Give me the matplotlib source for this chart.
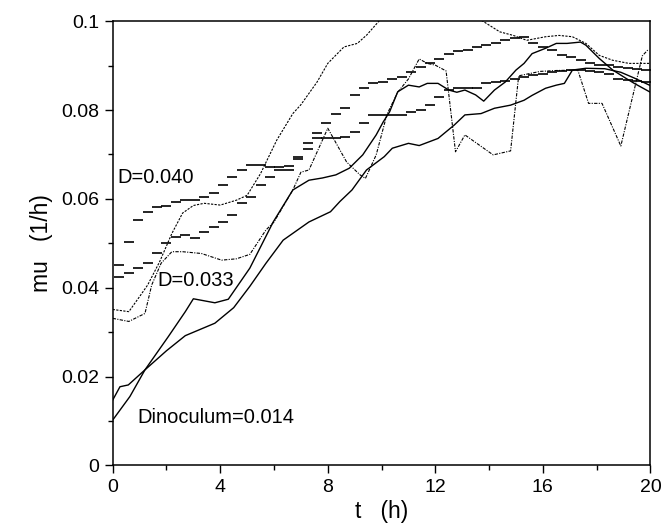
import numpy as np
import matplotlib
matplotlib.use('Agg')
import matplotlib.pyplot as plt
from matplotlib.ticker import MultipleLocator

plt.rcParams['font.family'] = ['Liberation Sans', 'DejaVu Sans']

# solid curves
t_a = [0, 0.27, 0.58, 1.2, 2.07, 2.7, 3.0, 3.8, 4.3, 5.1, 5.97, 6.7, 7.3, 7.8, 8.3, 8.8,
       9.3, 9.8, 10.06, 10.3, 10.6, 11.0, 11.4, 11.7, 12.1, 12.5, 12.8, 13.1, 13.5, 13.8,
       14.2, 14.6, 15.0, 15.3, 15.6, 16.1, 16.5, 16.9, 17.4, 17.6, 18.1, 18.6, 19.1, 19.4, 20.0]
mu_a = [0.0147, 0.0177, 0.0181, 0.0215, 0.0290, 0.0346, 0.0375, 0.0366, 0.0374, 0.0444,
        0.0548, 0.0620, 0.0642, 0.0647, 0.0654, 0.0669, 0.0699, 0.0744, 0.0773, 0.0796,
        0.0841, 0.0856, 0.0852, 0.0860, 0.0860, 0.0845, 0.0840, 0.0845, 0.0834, 0.0820,
        0.0845, 0.0863, 0.0890, 0.0905, 0.0927, 0.0939, 0.0950, 0.0950, 0.0953, 0.0946,
        0.0916, 0.0890, 0.0871, 0.0860, 0.0840]

t_b = [0, 0.64, 1.2, 2.0, 2.7, 3.8, 4.5, 5.1, 5.7, 6.34, 7.3, 8.1, 8.45, 8.9, 9.44, 10.1,
       10.4, 11.0, 11.4, 12.1, 12.7, 13.1, 13.7, 14.2, 14.8, 15.3, 15.6, 16.1, 16.5, 16.8,
       17.1, 17.6, 18.3, 18.9, 19.4, 20.0]
mu_b = [0.0102, 0.0155, 0.0215, 0.0258, 0.0292, 0.0320, 0.0355, 0.0403, 0.0455, 0.0507,
        0.0548, 0.0571, 0.0594, 0.0620, 0.0665, 0.0695, 0.0714, 0.0725, 0.0720, 0.0736,
        0.0766, 0.0789, 0.0792, 0.0804, 0.0811, 0.0822, 0.0833, 0.0849, 0.0856, 0.0860,
        0.0890, 0.0894, 0.0893, 0.0885, 0.0872, 0.0855]

# dotted curve (starts at 0.035, runs off the top)
t_c = [0, 0.6, 1.0, 1.3, 1.75, 2.2, 2.6, 3.0, 3.4, 4.0, 4.6, 5.0, 5.5, 6.1, 6.7, 7.0, 7.6,
       8.0, 8.6, 9.1, 9.45, 9.9, 10.5, 11.5, 12.5, 13.5, 13.9, 14.4, 14.9, 15.4, 16.1, 16.6,
       17.1, 17.6, 18.1, 18.6, 19.2, 19.8, 20.0]
mu_c = [0.0351, 0.0346, 0.0380, 0.0406, 0.0459, 0.0522, 0.0568, 0.0585, 0.0590, 0.0586,
        0.0597, 0.0608, 0.0657, 0.0732, 0.0792, 0.0812, 0.0863, 0.0905, 0.0942, 0.0950,
        0.0969, 0.1000, 0.1040, 0.1060, 0.1050, 0.1010, 0.0995, 0.0976, 0.0968, 0.0957,
        0.0965, 0.0968, 0.0965, 0.0950, 0.0923, 0.0912, 0.0905, 0.0905, 0.0905]

# dash-dot curve (starts at 0.033, jumpy)
t_d = [0, 0.6, 1.2, 1.45, 1.8, 2.2, 2.6, 3.3, 4.05, 4.6, 5.1, 5.7, 6.0, 6.7, 7.0, 7.3, 8.0,
       8.7, 9.2, 9.4, 9.8, 10.2, 10.6, 11.0, 11.4, 11.7, 12.0, 12.4, 12.75, 13.1, 14.15,
       14.8, 15.1, 15.9, 16.5, 17.3, 17.7, 18.2, 18.9, 19.7, 19.9]
mu_d = [0.0331, 0.0324, 0.0342, 0.0406, 0.0455, 0.0481, 0.0481, 0.0477, 0.0462, 0.0465,
        0.0475, 0.0530, 0.0548, 0.0620, 0.0660, 0.0665, 0.0759, 0.0683, 0.0654, 0.0646,
        0.0699, 0.0790, 0.0840, 0.0870, 0.0915, 0.0905, 0.0901, 0.0888, 0.0706, 0.0744,
        0.0699, 0.0708, 0.0877, 0.0887, 0.0889, 0.0890, 0.0815, 0.0815, 0.0719, 0.0922,
        0.0935]

# horizontal dash markers
t_m = [0.25, 0.6, 0.95, 1.3, 1.65, 2.0, 2.35, 2.7, 3.05, 3.4, 3.75, 4.1, 4.45, 4.8, 5.15,
       5.5, 5.85, 6.2, 6.55, 6.9, 7.25, 7.6, 7.95, 8.3, 8.65, 9.0, 9.35, 9.7, 10.05, 10.4,
       10.75, 11.1, 11.45, 11.8, 12.15, 12.5, 12.85, 13.2, 13.55, 13.9, 14.25, 14.6, 14.95,
       15.3, 15.65, 16.0, 16.35, 16.7, 17.05, 17.4, 17.75, 18.1, 18.45, 18.8, 19.15, 19.5,
       19.85]
mu_m040 = [0.0451, 0.0503, 0.0552, 0.0571, 0.0582, 0.0585, 0.0593, 0.0597, 0.0597, 0.0605,
           0.0614, 0.0631, 0.0650, 0.0665, 0.0676, 0.0676, 0.0672, 0.0672, 0.0674, 0.0695,
           0.0725, 0.0748, 0.0770, 0.0790, 0.0805, 0.0833, 0.0849, 0.0860, 0.0863, 0.0870,
           0.0875, 0.0885, 0.0897, 0.0905, 0.0916, 0.0927, 0.0932, 0.0935, 0.0942, 0.0946,
           0.0950, 0.0957, 0.0962, 0.0965, 0.0950, 0.0942, 0.0935, 0.0925, 0.0920, 0.0912,
           0.0905, 0.0901, 0.0901, 0.0898, 0.0895, 0.0893, 0.0890]
mu_m033 = [0.0424, 0.0434, 0.0445, 0.0455, 0.0478, 0.0500, 0.0515, 0.0519, 0.0511, 0.0526,
           0.0537, 0.0548, 0.0564, 0.0590, 0.0605, 0.0631, 0.0650, 0.0665, 0.0665, 0.0690,
           0.0713, 0.0737, 0.0737, 0.0737, 0.0740, 0.0751, 0.0770, 0.0789, 0.0789, 0.0789,
           0.0789, 0.0796, 0.0800, 0.0811, 0.0830, 0.0845, 0.0849, 0.0849, 0.0850, 0.0860,
           0.0863, 0.0866, 0.0870, 0.0875, 0.0878, 0.0882, 0.0885, 0.0888, 0.0890, 0.0890,
           0.0888, 0.0885, 0.0880, 0.0870, 0.0867, 0.0865, 0.0863]

fig = plt.figure(figsize=(6.63, 5.30), dpi=100)
ax = fig.add_axes([0.170, 0.122, 0.811, 0.838])

ax.plot(t_a, mu_a, color='black', lw=1.0)
ax.plot(t_b, mu_b, color='black', lw=1.0)
ax.plot(t_c, mu_c, color='black', lw=0.8, linestyle=(0, (2, 1.2)))
ax.plot(t_d, mu_d, color='black', lw=0.8, linestyle=(0, (3, 1.2, 1, 1.2)))
ax.plot(t_m, mu_m040, linestyle='none', marker='_', color='black', ms=7.5, mew=1.2)
ax.plot(t_m, mu_m033, linestyle='none', marker='_', color='black', ms=7.5, mew=1.2)

ax.text(0.16, 0.0647, 'D=0.040', fontsize=14.5, va='center', ha='left')
ax.text(1.65, 0.0416, 'D=0.033', fontsize=14.5, va='center', ha='left')
ax.text(0.9, 0.0108, 'Dinoculum=0.014', fontsize=14.5, va='center', ha='left')

ax.set_xlim(0, 20)
ax.set_ylim(0, 0.1)
ax.xaxis.set_major_locator(MultipleLocator(4))
ax.xaxis.set_minor_locator(MultipleLocator(2))
ax.yaxis.set_minor_locator(MultipleLocator(0.01))
ax.set_yticks([0, 0.02, 0.04, 0.06, 0.08, 0.1])
ax.set_yticklabels(['0', '0.02', '0.04', '0.06', '0.08', '0.1'])
ax.tick_params(which='major', length=6, width=1.0, labelsize=14, direction='out')
ax.tick_params(which='minor', length=3.5, width=1.0, direction='out')
for s in ax.spines.values():
    s.set_linewidth(1.1)

ax.set_xlabel('t   (h)', fontsize=16.5, labelpad=3)
ax.set_ylabel('mu   (1/h)', fontsize=16.5, labelpad=6)

fig.savefig('out.png', dpi=100)
